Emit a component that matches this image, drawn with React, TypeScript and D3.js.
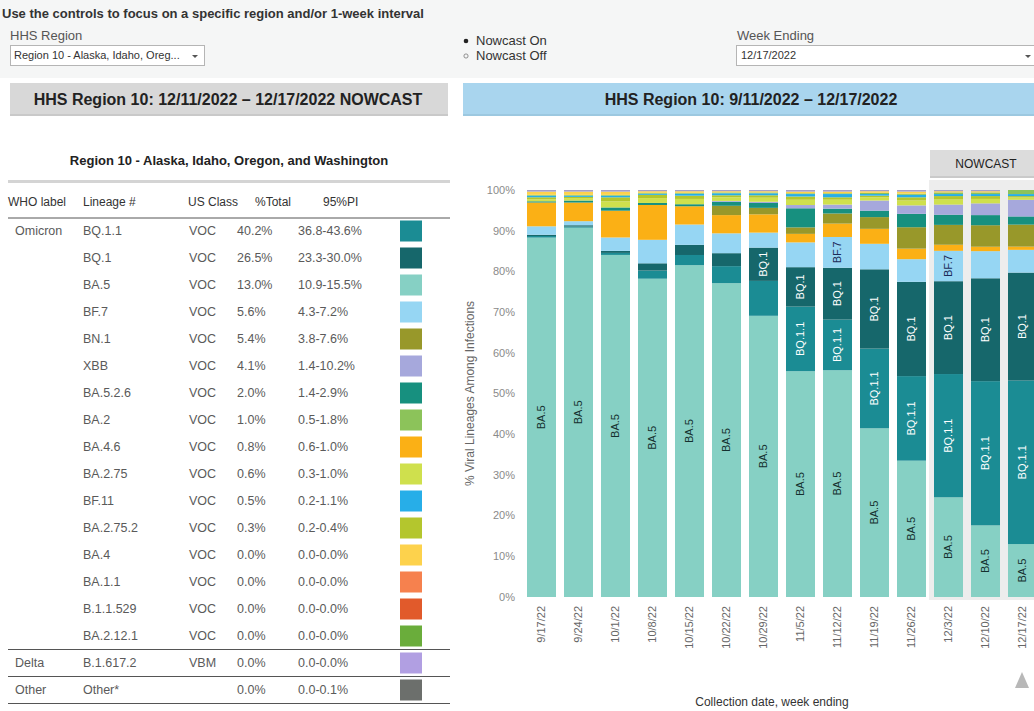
import React from 'react';
import * as d3 from 'd3';

const FONT = "'Liberation Sans', Arial, sans-serif";

// ---- chart data (percent of sequences, week ending) ----
const weeks = ['9/17/22', '9/24/22', '10/1/22', '10/8/22', '10/15/22', '10/22/22', '10/29/22', '11/5/22', '11/12/22', '11/19/22', '11/26/22', '12/3/22', '12/10/22', '12/17/22'];
const nowcastWeeks = ['12/3/22', '12/10/22', '12/17/22'];

const seriesKeys = ['BA.5', 'BQ.1.1', 'BQ.1', 'BF.7', 'BA.4.6', 'BN.1', 'BA.5.2.6', 'XBB', 'BA.2.75', 'BA.2.75.2', 'BF.11', 'BA.2', 'BA.4', 'Other'];

const sBA5 = [89.1, 91.2, 84.3, 78.6, 81.7, 77.5, 69.3, 55.6, 56.0, 41.7, 33.7, 24.6, 17.7, 13.0];
const sBQ11 = [0.4, 0.3, 0.5, 2.0, 2.5, 4.2, 8.6, 15.9, 12.5, 19.7, 20.9, 30.4, 35.6, 40.2];
const sBQ1 = [0.3, 0.3, 0.5, 1.8, 2.5, 3.2, 8.2, 9.7, 12.8, 19.6, 23.3, 22.9, 25.4, 26.5];
const sBF7 = [2.1, 1.0, 3.3, 5.8, 5.0, 4.9, 3.7, 6.1, 7.6, 6.3, 5.6, 7.5, 6.7, 5.6];
const sBA46 = [5.9, 4.6, 6.6, 8.6, 4.5, 4.5, 4.5, 2.1, 3.3, 3.7, 2.6, 1.5, 1.1, 0.8];
const sBN1 = [0, 0, 0, 0, 0, 2.3, 1.6, 1.6, 2.5, 2.9, 5.3, 4.9, 5.3, 5.4];
const sBA526 = [0.3, 0.5, 0.8, 0.5, 0.5, 1.0, 1.2, 4.7, 1.2, 1.6, 3.3, 2.5, 2.5, 2.0];
const sXBB = [0, 0, 0, 0, 0, 0.2, 0.3, 0.8, 1.0, 2.5, 2.1, 2.5, 2.9, 4.1];
const sBA275 = [0.5, 0.6, 1.5, 1.2, 1.3, 0.9, 1.0, 1.3, 1.2, 0.8, 1.2, 1.3, 1.1, 0.6];
const sBA2752 = [0.5, 0.3, 1.0, 0.8, 0.8, 0.5, 0.6, 0.8, 0.6, 0.4, 0.8, 0.8, 0.7, 0.3];
const sBF11 = [0.4, 0.3, 0.4, 0.3, 0.5, 0.5, 0.5, 0.6, 0.8, 0.4, 0.6, 0.5, 0.5, 0.5];
const sBA2 = [0.2, 0.2, 0.2, 0.2, 0.2, 0.2, 0.2, 0.2, 0.2, 0.3, 0.3, 0.4, 0.4, 1.0];
const sBA4 = [0.8, 0.8, 0.8, 0.4, 0.4, 0.3, 0.3, 0.4, 0.4, 0.4, 0.5, 0.3, 0.3, 0.0];
const sOther = [0.4, 0.4, 0.4, 0.3, 0.3, 0.3, 0.3, 0.4, 0.4, 0.3, 0.4, 0.3, 0.3, 0.0];

const seriesValues: Record<string, number[]> = {
  'BA.5': sBA5, 'BQ.1.1': sBQ11, 'BQ.1': sBQ1, 'BF.7': sBF7, 'BA.4.6': sBA46, 'BN.1': sBN1,
  'BA.5.2.6': sBA526, 'XBB': sXBB, 'BA.2.75': sBA275, 'BA.2.75.2': sBA2752, 'BF.11': sBF11,
  'BA.2': sBA2, 'BA.4': sBA4, 'Other': sOther,
};

const yTicks = [0, 0.1, 0.2, 0.3, 0.4, 0.5, 0.6, 0.7, 0.8, 0.9, 1.0];

// ---- colours ----
const colors: Record<string, string> = {
  'BQ.1.1': '#1b8c94', 'BQ.1': '#16676b', 'BA.5': '#86d0c4', 'BF.7': '#96d6f3', 'BN.1': '#98982a',
  'XBB': '#a6a8dc', 'BA.5.2.6': '#17907f', 'BA.2': '#8cc35a', 'BA.4.6': '#fbb015', 'BA.2.75': '#cfe04d',
  'BF.11': '#27aee8', 'BA.2.75.2': '#b4c62d', 'BA.4': '#fdd24c', 'BA.1.1': '#f6814e', 'B.1.1.529': '#e15a2b',
  'BA.2.12.1': '#6aad3b', 'B.1.617.2': '#b19fe2', 'Other*': '#6c6f6c', 'Other': '#a59ec6',
};
const labelColors: Record<string, string> = { 'BA.5': '#15302f', 'BF.7': '#1b2b58', 'BQ.1': '#ffffff', 'BQ.1.1': '#ffffff' };

// ---- table data ----
const tableWho = ['Omicron', '', '', '', '', '', '', '', '', '', '', '', '', '', '', '', 'Delta', 'Other'];
const tableLineage = ['BQ.1.1', 'BQ.1', 'BA.5', 'BF.7', 'BN.1', 'XBB', 'BA.5.2.6', 'BA.2', 'BA.4.6', 'BA.2.75', 'BF.11', 'BA.2.75.2', 'BA.4', 'BA.1.1', 'B.1.1.529', 'BA.2.12.1', 'B.1.617.2', 'Other*'];
const tableClass = ['VOC', 'VOC', 'VOC', 'VOC', 'VOC', 'VOC', 'VOC', 'VOC', 'VOC', 'VOC', 'VOC', 'VOC', 'VOC', 'VOC', 'VOC', 'VOC', 'VBM', ''];
const tableTotal = ['40.2%', '26.5%', '13.0%', '5.6%', '5.4%', '4.1%', '2.0%', '1.0%', '0.8%', '0.6%', '0.5%', '0.3%', '0.0%', '0.0%', '0.0%', '0.0%', '0.0%', '0.0%'];
const tablePI = ['36.8-43.6%', '23.3-30.0%', '10.9-15.5%', '4.3-7.2%', '3.8-7.6%', '1.4-10.2%', '1.4-2.9%', '0.5-1.8%', '0.6-1.0%', '0.3-1.0%', '0.2-1.1%', '0.2-0.4%', '0.0-0.0%', '0.0-0.0%', '0.0-0.0%', '0.0-0.0%', '0.0-0.0%', '0.0-0.1%'];
const groupEnds = [15, 16, 17];

let _ctx: CanvasRenderingContext2D | null = null;
function textWidth(s: string, font: string) {
  if (!_ctx) _ctx = document.createElement('canvas').getContext('2d');
  if (!_ctx) return s.length * 6;
  _ctx.font = font;
  return _ctx.measureText(s).width;
}

export default function App() {
  const rows = weeks.map((w, i) => {
    const r: any = { week: w };
    seriesKeys.forEach(k => { r[k] = seriesValues[k][i]; });
    return r;
  });
  const stacked = d3.stack<any>().keys(seriesKeys).offset(d3.stackOffsetExpand)(rows);

  const x = d3.scaleBand<string>().domain(weeks).range([523, 1041]).paddingInner(8 / 37).paddingOuter(4 / 37);
  const y = d3.scaleLinear().domain([0, 1]).range([597, 190]);
  const fmt = d3.format('.0%');
  const bw = x.bandwidth();
  const labelFont = `11px ${FONT}`;

  const nowX0 = (x(nowcastWeeks[0]) as number) - 5;

  const rowY = (i: number) => 231 + i * 27;

  return (
    <svg width={1034} height={711} style={{ position: 'absolute', left: 0, top: 0, background: '#fff' }} fontFamily={FONT}>
      <rect x={0} y={0} width={1034} height={78} fill="#f5f6f6" />
      <text x={2} y={18} fontSize={13} fontWeight="bold" fill="#333">Use the controls to focus on a specific region and/or 1-week interval</text>
      <text x={10} y={40} fontSize={13} fill="#555">HHS Region</text>
      <rect x={10.5} y={45.5} width={194} height={20} fill="#fff" stroke="#b5b5b5" />
      <text x={14} y={59} fontSize={11} fill="#333">Region 10 - Alaska, Idaho, Oreg...</text>
      <path d="M192,55 l6,0 l-3,3 z" fill="#555" />

      <circle cx={466} cy={41} r={2.3} fill="#222" />
      <circle cx={466} cy={56} r={2.1} fill="none" stroke="#777" strokeWidth={0.8} />
      <text x={476} y={45} fontSize={13} fill="#333">Nowcast On</text>
      <text x={476} y={60} fontSize={13} fill="#333">Nowcast Off</text>

      <text x={737} y={40} fontSize={13} fill="#555">Week Ending</text>
      <rect x={736.5} y={45.5} width={300} height={20} fill="#fff" stroke="#b5b5b5" />
      <text x={741} y={59} fontSize={11} fill="#333">12/17/2022</text>
      <path d="M1025,55 l6,0 l-3,3 z" fill="#555" />

      {/* section headers */}
      <rect x={10} y={83} width={438} height={33} fill="#d8d8d8" />
      <rect x={10} y={114} width={438} height={2} fill="#c9c9c9" />
      <text x={228} y={105} fontSize={16} fontWeight="bold" fill="#222" textAnchor="middle">HHS Region 10: 12/11/2022 – 12/17/2022 NOWCAST</text>
      <rect x={463} y={83} width={571} height={33} fill="#a9d5ee" />
      <rect x={463} y={114} width={571} height={2} fill="#9cc8e0" />
      <text x={751} y={105} fontSize={16} fontWeight="bold" fill="#222" textAnchor="middle">HHS Region 10: 9/11/2022 – 12/17/2022</text>

      {/* table */}
      <text x={229} y={165} fontSize={13} fontWeight="bold" fill="#222" textAnchor="middle">Region 10 - Alaska, Idaho, Oregon, and Washington</text>
      <rect x={8} y={180} width={442} height={3} fill="#d4d4d4" />
      <g fontSize={12} fill="#333">
        <text x={8} y={206}>WHO label</text>
        <text x={83} y={206}>Lineage #</text>
        <text x={188} y={206}>US Class</text>
        <text x={255} y={206}>%Total</text>
        <text x={323} y={206}>95%PI</text>
      </g>
      <line x1={8} x2={450} y1={218} y2={218} stroke="#555" strokeWidth={1} />
      {tableLineage.map((lin, i) => (
        <g key={lin} fontSize={12.5} fill="#5a5a5a">
          <text x={15} y={rowY(i)} dy="0.35em">{tableWho[i]}</text>
          <text x={83} y={rowY(i)} dy="0.35em">{lin}</text>
          <text x={189} y={rowY(i)} dy="0.35em">{tableClass[i]}</text>
          <text x={237} y={rowY(i)} dy="0.35em">{tableTotal[i]}</text>
          <text x={298} y={rowY(i)} dy="0.35em">{tablePI[i]}</text>
          <rect x={400} y={rowY(i) - 10.5} width={22} height={21} fill={colors[lin]} />
        </g>
      ))}
      {groupEnds.map(i => (
        <line key={i} x1={8} x2={450} y1={rowY(i) + 13.5} y2={rowY(i) + 13.5} stroke="#555" strokeWidth={1} />
      ))}

      {/* chart */}
      <rect x={nowX0} y={180} width={1034 - nowX0} height={420} fill="#ededed" />
      <rect x={930} y={150} width={104} height={28} fill="#dcdcdc" />
      <rect x={930} y={176} width={104} height={2} fill="#cacaca" />
      <text x={986} y={168} fontSize={12} fill="#222" textAnchor="middle">NOWCAST</text>

      {yTicks.map(t => (
        <text key={t} x={515} y={y(t)} dy="0.35em" fontSize={11} fill="#8a8a8a" textAnchor="end">{fmt(t)}</text>
      ))}
      <text transform={`translate(470,${(y(0) + y(1)) / 2}) rotate(-90)`} fontSize={12} fill="#666" textAnchor="middle" dy="0.35em">% Viral Lineages Among Infections</text>

      {stacked.map(layer => (
        <g key={layer.key} fill={colors[layer.key]}>
          {layer.map((d, i) => (
            <rect key={i} x={x(weeks[i])} y={y(d[1])} width={bw} height={Math.max(0, y(d[0]) - y(d[1]))} />
          ))}
        </g>
      ))}
      {stacked.map(layer => (
        <g key={'l' + layer.key}>
          {layer.map((d, i) => {
            const h = y(d[0]) - y(d[1]);
            const tw = textWidth(layer.key, labelFont);
            if (h < tw + 7) return null;
            const cx = (x(weeks[i]) as number) + bw / 2;
            const cy = (y(d[0]) + y(d[1])) / 2;
            return (
              <text key={i} transform={`translate(${cx},${cy}) rotate(-90)`} fontSize={11} textAnchor="middle" dy="0.35em" fill={labelColors[layer.key] || '#222'}>{layer.key}</text>
            );
          })}
        </g>
      ))}

      {weeks.map(w => (
        <text key={w} transform={`translate(${(x(w) as number) + bw / 2},606) rotate(-90)`} fontSize={11} fill="#666" textAnchor="end" dy="0.35em">{w}</text>
      ))}
      <text x={772} y={706} fontSize={12} fill="#333" textAnchor="middle">Collection date, week ending</text>
      <path d="M1022,672 L1029,688 L1015,688 Z" fill="#b8b8b8" />
    </svg>
  );
}
